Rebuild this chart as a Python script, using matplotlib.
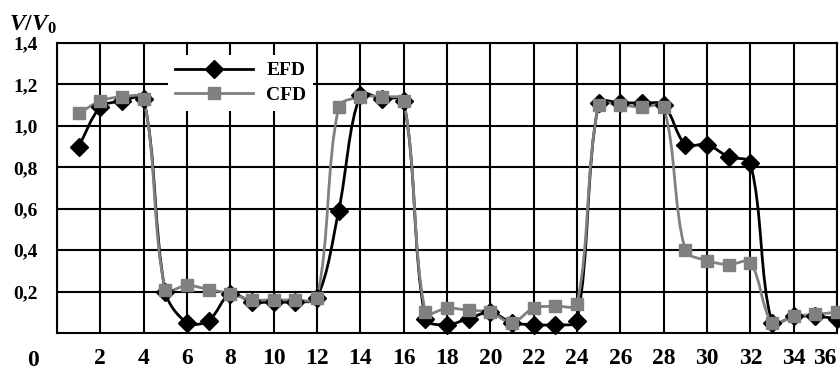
import numpy as np
import matplotlib
matplotlib.use('Agg')
import matplotlib.pyplot as plt
from matplotlib.path import Path
from matplotlib.patches import PathPatch

# section number along the channel
x = list(range(1, 37))

# measured (EFD) and computed (CFD) velocity ratio V/V0
efd = [0.90, 1.09, 1.12, 1.13, 0.20, 0.05, 0.06, 0.19, 0.15, 0.15, 0.15, 0.17,
       0.59, 1.15, 1.13, 1.12, 0.07, 0.04, 0.07, 0.10, 0.05, 0.04, 0.04, 0.06,
       1.11, 1.11, 1.11, 1.10, 0.91, 0.91, 0.85, 0.82, 0.05, 0.08, 0.08, 0.07]
cfd = [1.06, 1.12, 1.14, 1.13, 0.21, 0.23, 0.21, 0.19, 0.16, 0.16, 0.16, 0.17,
       1.09, 1.14, 1.14, 1.12, 0.10, 0.12, 0.11, 0.10, 0.05, 0.12, 0.13, 0.14,
       1.10, 1.10, 1.09, 1.09, 0.40, 0.35, 0.33, 0.34, 0.05, 0.08, 0.09, 0.10]

xticks = list(range(0, 37, 2))
yticks = [0.2, 0.4, 0.6, 0.8, 1.0, 1.2, 1.4]
ylabels = ['0,2', '0,4', '0,6', '0,8', '1,0', '1,2', '1,4']

FONT = 'Liberation Serif'
plt.rcParams['mathtext.fontset'] = 'custom'
plt.rcParams['mathtext.rm'] = 'Liberation Serif:bold'
plt.rcParams['mathtext.it'] = 'Liberation Serif:italic:bold'
plt.rcParams['mathtext.bf'] = 'Liberation Serif:bold'


# excel-like smoothed line: bezier path through the points,
# tangent length scaled by neighbouring segment lengths (screen units)
def smooth_path(ax, xs, ys):
    p = np.column_stack([xs, ys]).astype(float)
    s = ax.transData.transform(p)
    n = len(p)
    verts = [p[0]]
    codes = [Path.MOVETO]
    d = np.hypot(*(s[1:] - s[:-1]).T)
    for i in range(n - 1):
        if i > 0:
            t1 = (p[i + 1] - p[i - 1]) * d[i] / (d[i - 1] + d[i]) / 3.0
        else:
            t1 = (p[i + 1] - p[i]) / 3.0
        if i + 2 < n:
            t2 = (p[i + 2] - p[i]) * d[i] / (d[i] + d[i + 1]) / 3.0
        else:
            t2 = (p[i + 1] - p[i]) / 3.0
        verts += [p[i] + t1, p[i + 1] - t2, p[i + 1]]
        codes += [Path.CURVE4] * 3
    return Path(verts, codes)


fig = plt.figure(figsize=(8.4, 3.72), dpi=100)
ax = fig.add_axes([57/840, 1 - 333/372, 780/840, 290/372])

ax.set_xlim(0, 36)
ax.set_ylim(0, 1.4)

ax.add_patch(PathPatch(smooth_path(ax, x, efd), fill=False, edgecolor='black',
                       lw=2.0, zorder=3, clip_on=False))
ax.add_patch(PathPatch(smooth_path(ax, x, cfd), fill=False, edgecolor='#808080',
                       lw=2.0, zorder=4, clip_on=False))
ax.plot(x, efd, linestyle='none', marker='D', ms=9, color='black', zorder=5,
        clip_on=False)
ax.plot(x, cfd, linestyle='none', marker='s', ms=9, color='#808080', zorder=6,
        clip_on=False)

# legend handles
ax.plot([], [], '-', marker='D', ms=9, lw=2, color='black', label='EFD')
ax.plot([], [], '-', marker='s', ms=9, lw=2, color='#808080', label='CFD')
leg = ax.legend(loc='upper left', bbox_to_anchor=(111/780, 1 - 12/290),
                borderaxespad=0, frameon=True, fancybox=False,
                edgecolor='none', framealpha=1,
                prop={'family': FONT, 'weight': 'bold', 'size': 14},
                handlelength=4.0, borderpad=0.35, labelspacing=0.35,
                handletextpad=0.7)
leg.set_zorder(10)

ax.set_xticks(xticks)
ax.set_yticks(yticks)
ax.grid(True, color='black', lw=1.5)
ax.set_axisbelow(True)
for sp in ax.spines.values():
    sp.set_color('black')
    sp.set_linewidth(1.5)
ax.tick_params(length=0)
ax.tick_params(axis='x', pad=11)
ax.tick_params(axis='y', pad=14)

xl = ['' if t == 0 else str(t) for t in xticks]
ax.set_xticklabels(xl, fontfamily=FONT, fontweight='bold', fontsize=17)
ax.set_yticklabels(ylabels, fontfamily=FONT, fontweight='bold', fontsize=14)
ax.get_xticklabels()[-1].set_horizontalalignment('right')

fig.text(33/840, 1 - 360/372, '0', ha='center', va='center',
         fontfamily=FONT, fontweight='bold', fontsize=17)
fig.text(9/840, 1 - 24/372, r'$\mathit{V/V}_{\mathbf{0}}$',
         ha='left', va='center', fontsize=17)

fig.savefig('out.png', dpi=100)
